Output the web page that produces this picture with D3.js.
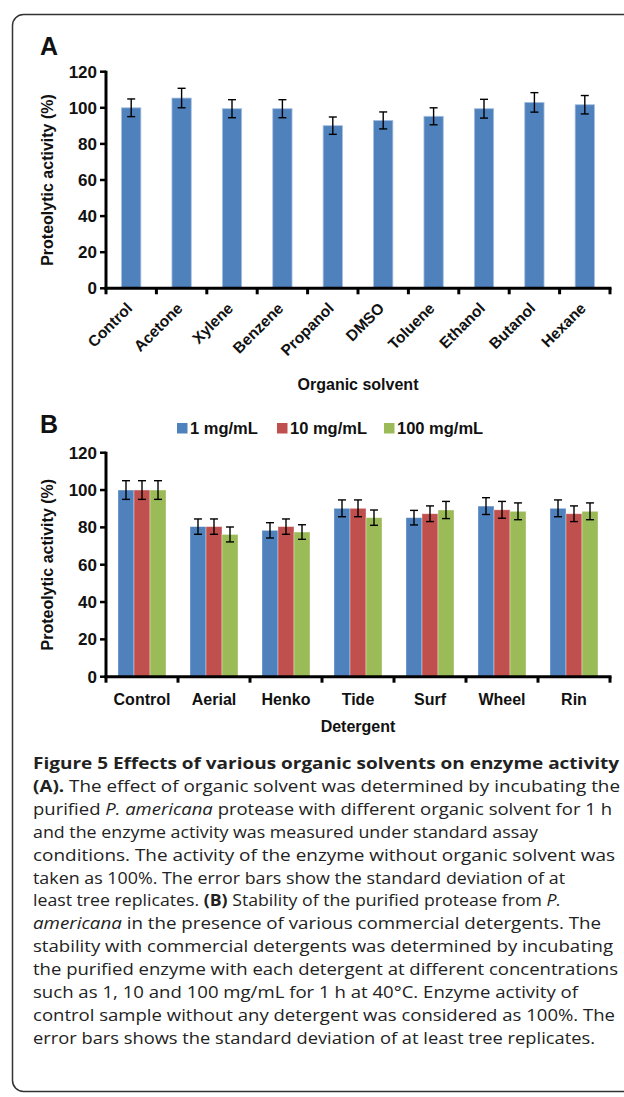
<!DOCTYPE html>
<html><head><meta charset="utf-8">
<script src="https://cdn.jsdelivr.net/npm/d3@7"></script>
<style>
html,body{margin:0;padding:0;background:#fff;}
svg{display:block;}
.chart text{font-family:"Liberation Sans",Arial,sans-serif;font-weight:bold;fill:#111;}
.cap text{font-family:"Open Sans",sans-serif;fill:#222;}
</style></head>
<body>
<svg id="fig" width="624" height="1097"></svg>
<script>
// ---- Panel A data ----
const solvents = ["Control","Acetone","Xylene","Benzene","Propanol","DMSO","Toluene","Ethanol","Butanol","Hexane"];
const solventActivity = [100, 105.4, 99.5, 99.5, 90.1, 93, 95.3, 99.5, 103, 101.7];
const solventError = [4.9, 5.4, 5, 5, 4.8, 4.7, 4.7, 5.2, 5.4, 5.1];
// ---- Panel B data ----
const detergents = ["Control","Aerial","Henko","Tide","Surf","Wheel","Rin"];
const concentrations = ["1 mg/mL","10 mg/mL","100 mg/mL"];
const act1 = [100, 80.4, 78.4, 90.2, 85.2, 91.4, 90.2];
const act10 = [100, 80.4, 80.4, 90.2, 87.3, 89.4, 87.3];
const act100 = [100, 76.2, 77.5, 85.2, 89.3, 88.6, 88.6];
const err1 = [5, 4.1, 4.1, 4.5, 3.9, 4.5, 4.5];
const err10 = [5, 4.1, 4.1, 4.5, 4.2, 4.5, 4.2];
const err100 = [5, 4, 3.9, 4.1, 4.6, 4.5, 4.5];
const yTicks = [0,20,40,60,80,100,120];
const colors = ["#4F81BD","#C0504D","#9BBB59"];

const captionLines = [
 {parts:[{t:"Figure 5 Effects of various organic solvents on enzyme activity",b:1}], w:586},
 {parts:[{t:"(A).",b:1},{t:" The effect of organic solvent was determined by incubating the"}], w:587},
 {parts:[{t:"purified "},{t:"P. americana",i:1},{t:" protease with different organic solvent for 1 h"}], w:579},
 {parts:[{t:"and the enzyme activity was measured under standard assay"}], w:505},
 {parts:[{t:"conditions. The activity of the enzyme without organic solvent was"}], w:582},
 {parts:[{t:"taken as 100%. The error bars show the standard deviation of at"}], w:532},
 {parts:[{t:"least tree replicates. "},{t:"(B)",b:1},{t:" Stability of the purified protease from "},{t:"P.",i:1}], w:528},
 {parts:[{t:"americana",i:1},{t:" in the presence of various commercial detergents. The"}], w:568},
 {parts:[{t:"stability with commercial detergents was determined by incubating"}], w:580},
 {parts:[{t:"the purified enzyme with each detergent at different concentrations"}], w:585},
 {parts:[{t:"such as 1, 10 and 100 mg/mL for 1 h at 40°C. Enzyme activity of"}], w:545},
 {parts:[{t:"control sample without any detergent was considered as 100%. The"}], w:582},
 {parts:[{t:"error bars shows the standard deviation of at least tree replicates."}], w:562}
];

const svg = d3.select("#fig");
// frame
svg.append("rect").attr("x",12.5).attr("y",14.5).attr("width",700).attr("height",1077)
  .attr("rx",11).attr("fill","none").attr("stroke","#333").attr("stroke-width",1.5);

const chart = svg.append("g").attr("class","chart");
const L = 106, R = 610;

function yAxisDraw(g, y, top, bottom) {
  g.append("line").attr("x1",L).attr("x2",L).attr("y1",top-1).attr("y2",bottom+1.5)
    .attr("stroke","#000").attr("stroke-width",3);
  yTicks.forEach(t=>{
    g.append("line").attr("x1",L-6).attr("x2",L).attr("y1",y(t)).attr("y2",y(t)).attr("stroke","#000").attr("stroke-width",2.5);
    g.append("text").attr("x",L-9).attr("y",y(t)).attr("dy","0.36em").attr("text-anchor","end")
      .attr("font-size",17).text(t);
  });
  g.append("text").attr("transform",`translate(53,${(top+bottom)/2}) rotate(-90)`)
    .attr("text-anchor","middle").attr("font-size",16).text("Proteolytic activity (%)");
}
function errBars(g, cx, v, e, y, cap) {
  g.append("line").attr("x1",cx).attr("x2",cx).attr("y1",y(v+e)).attr("y2",y(v-e)).attr("stroke","#000").attr("stroke-width",1.4);
  [v+e, v-e].forEach(u=>g.append("line").attr("x1",cx-cap).attr("x2",cx+cap).attr("y1",y(u)).attr("y2",y(u)).attr("stroke","#000").attr("stroke-width",1.4));
}

// ---- Panel A ----
{
  const top = 71.7, bottom = 288.3;
  const y = d3.scaleLinear().domain([0,120]).range([bottom, top]);
  const x = d3.scaleBand().domain(solvents).range([L,R]).paddingInner(0.617).paddingOuter(0.3085);
  const xb = d3.scaleBand().domain(solvents).range([L,R]);
  const g = chart.append("g");
  g.selectAll("rect.bar").data(solvents).join("rect").attr("class","bar")
    .attr("x",d=>x(d)).attr("width",x.bandwidth())
    .attr("y",(d,i)=>y(solventActivity[i])).attr("height",(d,i)=>bottom-y(solventActivity[i]))
    .attr("fill",colors[0]).attr("stroke","#a8c0e0").attr("stroke-width",0.8);
  solvents.forEach((d,i)=>errBars(g, x(d)+x.bandwidth()/2, solventActivity[i], solventError[i], y, 4));
  yAxisDraw(g, y, top, bottom);
  g.append("line").attr("x1",L-1.5).attr("x2",R+1.5).attr("y1",bottom).attr("y2",bottom).attr("stroke","#000").attr("stroke-width",3);
  solvents.concat([null]).forEach((d,i)=>{
    const xx = d ? xb(d) : R;
    g.append("line").attr("x1",xx).attr("x2",xx).attr("y1",bottom).attr("y2",bottom+6).attr("stroke","#000").attr("stroke-width",3);
  });
  solvents.forEach(d=>{
    const cx = xb(d)+xb.bandwidth()/2;
    g.append("text").attr("transform",`translate(${cx+2},${bottom+21}) rotate(-45)`)
      .attr("text-anchor","end").attr("font-size",15.5).text(d);
  });
  g.append("text").attr("x",(L+R)/2).attr("y",390).attr("text-anchor","middle").attr("font-size",16).text("Organic solvent");
  g.append("text").attr("x",40).attr("y",55).attr("font-size",25).text("A");
}

// ---- Panel B ----
{
  const top = 452.7, bottom = 676.7;
  const y = d3.scaleLinear().domain([0,120]).range([bottom, top]);
  const x0 = d3.scaleBand().domain(detergents).range([L,R]).paddingInner(1/3).paddingOuter(1/6);
  const xb = d3.scaleBand().domain(detergents).range([L,R]);
  const x1 = d3.scaleBand().domain(concentrations).range([0,x0.bandwidth()]);
  const vals = [act1, act10, act100], errs = [err1, err10, err100];
  const g = chart.append("g");
  concentrations.forEach((c,s)=>{
    g.selectAll("rect.s"+s).data(detergents).join("rect").attr("class","s"+s)
      .attr("x",d=>x0(d)+x1(c)).attr("width",x1.bandwidth())
      .attr("y",(d,i)=>y(vals[s][i])).attr("height",(d,i)=>bottom-y(vals[s][i]))
      .attr("fill",colors[s]).attr("stroke","#fff").attr("stroke-opacity",0.45).attr("stroke-width",0.8);
  });
  concentrations.forEach((c,s)=>detergents.forEach((d,i)=>errBars(g, x0(d)+x1(c)+x1.bandwidth()/2, vals[s][i], errs[s][i], y, 4)));
  yAxisDraw(g, y, top, bottom);
  g.append("line").attr("x1",L-1.5).attr("x2",R+1.5).attr("y1",bottom).attr("y2",bottom).attr("stroke","#000").attr("stroke-width",3);
  detergents.concat([null]).forEach(d=>{
    const xx = d ? xb(d) : R;
    g.append("line").attr("x1",xx).attr("x2",xx).attr("y1",bottom).attr("y2",bottom+6).attr("stroke","#000").attr("stroke-width",3);
  });
  detergents.forEach(d=>{
    g.append("text").attr("x",xb(d)+xb.bandwidth()/2).attr("y",705).attr("text-anchor","middle").attr("font-size",16).text(d);
  });
  g.append("text").attr("x",(L+R)/2).attr("y",732).attr("text-anchor","middle").attr("font-size",16).text("Detergent");
  g.append("text").attr("x",40).attr("y",433).attr("font-size",25).text("B");
  // legend
  const lx = [177, 277, 384];
  concentrations.forEach((c,s)=>{
    g.append("rect").attr("x",lx[s]).attr("y",423).attr("width",10.5).attr("height",10.5).attr("fill",colors[s]);
    g.append("text").attr("x",lx[s]+13).attr("y",433.5).attr("font-size",16.5).text(c);
  });
}

// ---- Caption ----
{
  const g = svg.append("g").attr("class","cap");
  captionLines.forEach((ln,i)=>{
    const t = g.append("text").attr("x",33).attr("y",769+i*22.9).attr("font-size",16.5)
      .attr("textLength",ln.w).attr("lengthAdjust","spacingAndGlyphs");
    ln.parts.forEach(p=>{
      const ts = t.append("tspan").text(p.t);
      if (p.b) ts.attr("font-weight","bold");
      if (p.i) ts.attr("font-style","italic");
    });
  });
}
</script>
</body></html>
